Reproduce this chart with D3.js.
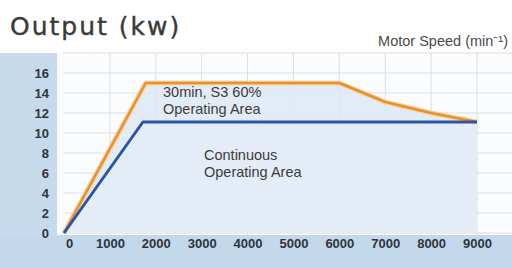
<!DOCTYPE html>
<html><head><meta charset="utf-8">
<script src="https://cdn.jsdelivr.net/npm/d3@7/dist/d3.min.js"></script>
<style>html,body{margin:0;padding:0;background:#fff;}svg{display:block;}</style>
</head><body>
<script>
const xTicks = [0,1000,2000,3000,4000,5000,6000,7000,8000,9000];
const yTicks = [0,2,4,6,8,10,12,14,16];
const s3Speed = [0,1780,6000,7000,8000,9000];
const s3Output = [0,15,15,13.1,12.0,11.1];
const contSpeed = [0,1720,9000];
const contOutput = [0,11.1,11.1];

const W=512,H=268;
const svg=d3.select("body").append("svg").attr("width",W).attr("height",H);
const x=d3.scaleLinear().domain([0,9000]).range([64,477]);
const y=d3.scaleLinear().domain([0,16]).range([233,73]);

// backgrounds
svg.append("rect").attr("x",0).attr("y",0).attr("width",W).attr("height",H).attr("fill","#ffffff");
svg.append("rect").attr("x",0).attr("y",53).attr("width",57).attr("height",H-53).attr("fill","#c6daeb");
svg.append("rect").attr("x",0).attr("y",235).attr("width",W).attr("height",H-235).attr("fill","#c3d8ea");
svg.append("rect").attr("x",57).attr("y",53).attr("width",W-57).attr("height",182).attr("fill","#fbfcfd");

// grid
const g=svg.append("g");
const hg=d3.range(0,19,2);
g.selectAll("line.h").data(hg).enter().append("line")
 .attr("x1",63).attr("x2",W).attr("y1",d=>y(d)).attr("y2",d=>y(d))
 .attr("stroke","#dcdfe2").attr("stroke-width",1);
g.selectAll("line.v").data(xTicks.slice(1)).enter().append("line")
 .attr("y1",53).attr("y2",235).attr("x1",d=>x(d)).attr("x2",d=>x(d))
 .attr("stroke","#dcdfe2").attr("stroke-width",1);

// areas
const s3=s3Speed.map((s,i)=>[s,s3Output[i]]);
const ct=contSpeed.map((s,i)=>[s,contOutput[i]]);
const area=d3.area().x(d=>x(d[0])).y0(y(0)).y1(d=>y(d[1]));
svg.append("path").datum(s3).attr("d",area).attr("fill","#dde9f5").attr("opacity",0.85);
svg.append("path").datum(ct).attr("d",area).attr("fill","#e6eff8").attr("opacity",0.6);

// lines
const line=d3.line().x(d=>x(d[0])).y(d=>y(d[1]));
svg.append("path").datum(s3).attr("d",line).attr("fill","none").attr("stroke","#f6d3a3").attr("stroke-width",5).attr("stroke-linejoin","round");
svg.append("path").datum(s3).attr("d",line).attr("fill","none").attr("stroke","#e8902c").attr("stroke-width",2.5).attr("stroke-linejoin","round");
svg.append("path").datum(ct).attr("d",line).attr("fill","none").attr("stroke","#2b56a3").attr("stroke-width",3).attr("stroke-linejoin","round");

// axes
const yAxis=d3.axisLeft(y).tickValues(yTicks).tickSize(0).tickPadding(0);
const ya=svg.append("g").attr("transform","translate(49,0)").call(yAxis);
ya.select(".domain").remove();
ya.selectAll("text").attr("font-family","Liberation Sans, Arial, sans-serif").attr("font-weight","bold").attr("font-size",13).attr("fill","#2e3440").attr("dy","0.35em");

const xAxis=d3.axisBottom(x).tickValues(xTicks).tickFormat(d3.format("d")).tickSize(0).tickPadding(0);
const xa=svg.append("g").attr("transform","translate(0,239)").call(xAxis);
xa.select(".domain").remove();
xa.selectAll("text").attr("font-family","Liberation Sans, Arial, sans-serif").attr("font-weight","bold").attr("font-size",13).attr("fill","#2e3440").attr("dy","0.71em");
xa.selectAll(".tick").filter(d=>d===0).select("text").attr("dx",5);

// titles
svg.append("text").attr("x",10).attr("y",35).text("Output (kw)")
 .attr("font-family","DejaVu Sans, sans-serif").attr("font-size",25).attr("fill","#3a3a3a")
 .attr("stroke","#3a3a3a").attr("stroke-width",0.4).attr("letter-spacing","2px");
svg.append("text").attr("x",508).attr("y",46).attr("text-anchor","end")
 .attr("font-family","Liberation Sans, Arial, sans-serif").attr("font-size",14.5).attr("fill","#4a4a4a")
 .text("Motor Speed (min⁻¹)");

// annotations
const ann=[{t:"30min, S3 60%",x:163,y:97},{t:"Operating Area",x:163,y:114},{t:"Continuous",x:204,y:160},{t:"Operating Area",x:204,y:177}];
svg.selectAll("text.ann").data(ann).enter().append("text").attr("class","ann")
 .attr("x",d=>d.x).attr("y",d=>d.y).text(d=>d.t)
 .attr("font-family","Liberation Sans, Arial, sans-serif").attr("font-size",14.5).attr("fill","#3c3c3c");
</script>
</body></html>
